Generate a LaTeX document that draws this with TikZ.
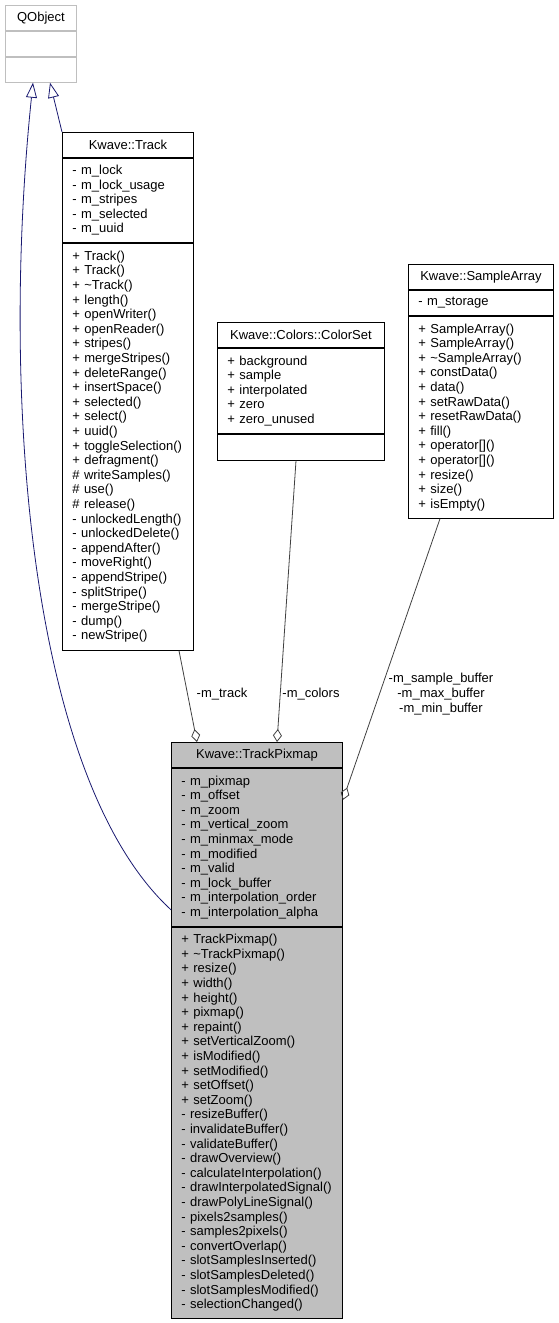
\documentclass[tikz,border=0pt]{standalone}
\usepackage{fontspec}
\setmainfont{Liberation Sans}
\usepackage{xcolor}
\usepackage{tikz}
\usetikzlibrary{arrows.meta,positioning,calc}
\definecolor{edgeblue}{HTML}{191970}
\definecolor{edgegray}{HTML}{404040}
\definecolor{grey75}{HTML}{BFBFBF}

\begin{document}
\begin{tikzpicture}[
  x=1pt, y=-1pt,
  font=\fontsize{13}{14.6}\selectfont,
  head/.style={draw, line width=0.9pt, minimum height=25pt, inner sep=0pt, anchor=north west},
  part/.style={draw, line width=0.9pt, inner xsep=10pt, inner ysep=0pt, align=left, text width=#1},
  inherit/.style={edgeblue, {Triangle[open, length=15pt, width=11pt]}-, line width=0.8pt},
  aggr/.style={edgegray, -{Diamond[open, length=13pt, width=9pt]}, line width=0.8pt},
  lbl/.style={inner sep=0pt, align=center}
]
\useasboundingbox (0,0) rectangle (559,1323);

\node[head, draw=grey75, minimum width=71pt] (qobj) at (5,5) {QObject};
\node[part=51pt, draw=grey75, minimum height=25pt, below=0pt of qobj] (qobjattr) {};
\node[part=51pt, draw=grey75, minimum height=25pt, below=0pt of qobjattr] (qobjmeth) {};

\node[head, minimum width=131pt] (trackhead) at (62,132) {Kwave::Track};
\node[part=111pt, minimum height=84pt, below=0pt of trackhead] (trackattr) {- m\_lock\\- m\_lock\_usage\\- m\_stripes\\- m\_selected\\- m\_uuid};
\node[part=111pt, minimum height=407pt, below=0pt of trackattr] (trackmeth) {+ Track()\\+ Track()\\+ \textasciitilde Track()\\+ length()\\+ openWriter()\\+ openReader()\\+ stripes()\\+ mergeStripes()\\+ deleteRange()\\+ insertSpace()\\+ selected()\\+ select()\\+ uuid()\\+ toggleSelection()\\+ defragment()\\\# writeSamples()\\\# use()\\\# release()\\- unlockedLength()\\- unlockedDelete()\\- appendAfter()\\- moveRight()\\- appendStripe()\\- splitStripe()\\- mergeStripe()\\- dump()\\- newStripe()};

\node[head, minimum width=167pt] (cshead) at (217,322) {Kwave::Colors::ColorSet};
\node[part=147pt, minimum height=85pt, below=0pt of cshead] (csattr) {+ background\\+ sample\\+ interpolated\\+ zero\\+ zero\_unused};
\node[part=147pt, minimum height=26pt, below=0pt of csattr] (csempty) {};

\node[head, minimum width=145pt] (sahead) at (408,264) {Kwave::SampleArray};
\node[part=125pt, minimum height=25pt, below=0pt of sahead] (saattr) {- m\_storage};
\node[part=125pt, minimum height=202pt, below=0pt of saattr] (sameth) {+ SampleArray()\\+ SampleArray()\\+ \textasciitilde SampleArray()\\+ constData()\\+ data()\\+ setRawData()\\+ resetRawData()\\+ fill()\\+ operator[]()\\+ operator[]()\\+ resize()\\+ size()\\+ isEmpty()};

\node[head, fill=grey75, minimum width=171pt] (tphead) at (171,742) {Kwave::TrackPixmap};
\node[part=151pt, fill=grey75, minimum height=158pt, below=0pt of tphead] (tpattr) {- m\_pixmap\\- m\_offset\\- m\_zoom\\- m\_vertical\_zoom\\- m\_minmax\_mode\\- m\_modified\\- m\_valid\\- m\_lock\_buffer\\- m\_interpolation\_order\\- m\_interpolation\_alpha};
\node[part=151pt, fill=grey75, minimum height=391pt, below=0pt of tpattr] (tpmeth) {+ TrackPixmap()\\+ \textasciitilde TrackPixmap()\\+ resize()\\+ width()\\+ height()\\+ pixmap()\\+ repaint()\\+ setVerticalZoom()\\+ isModified()\\+ setModified()\\+ setOffset()\\+ setZoom()\\- resizeBuffer()\\- invalidateBuffer()\\- validateBuffer()\\- drawOverview()\\- calculateInterpolation()\\- drawInterpolatedSignal()\\- drawPolyLineSignal()\\- pixels2samples()\\- samples2pixels()\\- convertOverlap()\\- slotSamplesInserted()\\- slotSamplesDeleted()\\- slotSamplesModified()\\- selectionChanged()};

\draw[inherit] ($(qobjmeth.south west)+(28,0)$) .. controls (0,400) and (30,780) .. ($(tpattr.south west)+(0,-17)$);
\draw[inherit] ($(qobjmeth.south west)+(45,0)$) -- (trackhead.north west);

\draw[aggr] ($(trackmeth.south west)+(117,0)$) -- ($(tphead.north west)+(26,0)$);
\draw[aggr] ($(csempty.south west)+(79,0)$) -- ($(tphead.north west)+(106,0)$);
\draw[aggr] ($(sameth.south west)+(32,0)$) -- ($(tpattr.north east)+(0,32)$);

\node[lbl] (ltrack) at (222,694) {-m\_track};
\node[lbl] (lcolors) at (311,694) {-m\_colors};
\node[lbl] (lbuffer) at (441,694) {-m\_sample\_buffer\\-m\_max\_buffer\\-m\_min\_buffer};
\end{tikzpicture}
\end{document}
